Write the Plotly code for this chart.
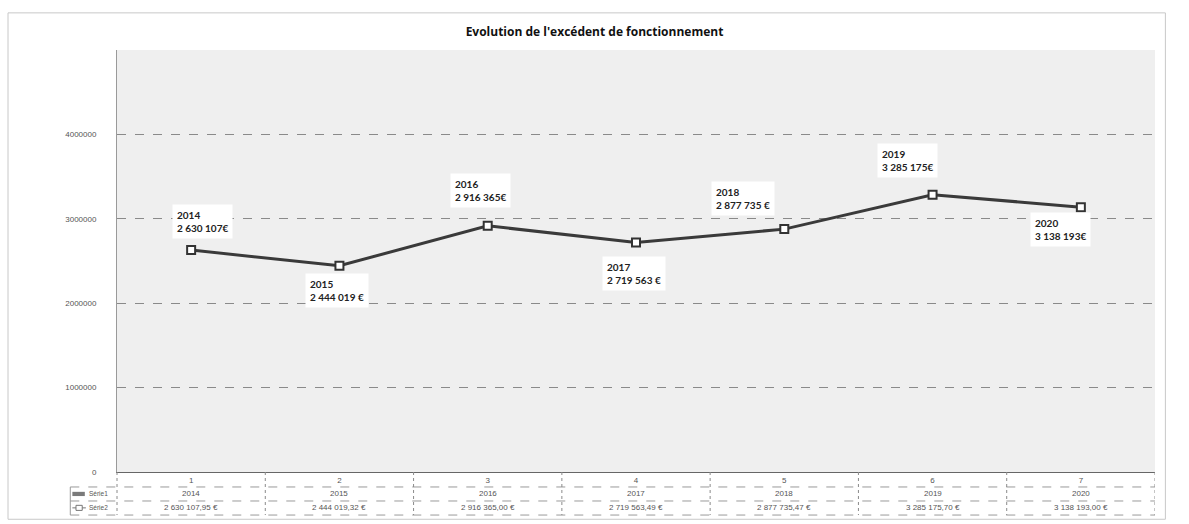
import plotly.graph_objects as go

# ---- data ----
categories = [1, 2, 3, 4, 5, 6, 7]
years = ["2014", "2015", "2016", "2017", "2018", "2019", "2020"]
values = [2630107.95, 2444019.32, 2916365.00, 2719563.49, 2877735.47, 3285175.70, 3138193.00]
label_values = ["2 630 107€", "2 444 019 €", "2 916 365€", "2 719 563 €", "2 877 735 €", "3 285 175€", "3 138 193€"]
table_values = ["2 630 107,95 €", "2 444 019,32 €", "2 916 365,00 €", "2 719 563,49 €",
                "2 877 735,47 €", "3 285 175,70 €", "3 138 193,00 €"]
y_ticks = [0, 1000000, 2000000, 3000000, 4000000]
title = "Evolution de l'excédent de fonctionnement"

# label placement (pixel offsets from marker)
label_dx = [11, -2, -7, -2, -41, -25, -20]
label_dy = [-29, 25, -35, 31, -31, -34, 22]

fig = go.Figure()
fig.add_trace(go.Scatter(
    x=categories, y=values, mode="lines+markers",
    line=dict(color="#3a3a3a", width=3),
    marker=dict(symbol="square", size=8, color="white", line=dict(color="#333333", width=2)),
    showlegend=False, hoverinfo="skip"))

ann = []
for c, yr, lv, dx, dy, v in zip(categories, years, label_values, label_dx, label_dy, values):
    ann.append(dict(x=c, y=v, xref="x", yref="y", text=f"{yr}<br>{lv}", showarrow=False,
                    xshift=dx, yshift=-dy, align="left", bgcolor="white", borderpad=4,
                    font=dict(family="Lato", size=10, color="#222222", weight="bold")))

tfont = dict(family="Liberation Sans", size=8, color="#555555")
# data table rows
for c, yr, tv in zip(categories, years, table_values):
    ann.append(dict(x=c, y=-0.052, xref="x", yref="paper", text=yr, showarrow=False,
                    yanchor="middle", font=tfont))
    ann.append(dict(x=c, y=-0.085, xref="x", yref="paper", text=tv, showarrow=False,
                    yanchor="middle", font=tfont))
ann.append(dict(x=-0.029, y=-0.052, xref="paper", yref="paper", text="Série1", showarrow=False,
                xanchor="left", yanchor="middle", font=dict(family="Liberation Sans", size=6.5, color="#555555")))
ann.append(dict(x=-0.029, y=-0.085, xref="paper", yref="paper", text="Série2", showarrow=False,
                xanchor="left", yanchor="middle", font=dict(family="Liberation Sans", size=6.5, color="#555555")))

shapes = []
# table horizontal lines
for yp in [-0.0355, -0.0687, -0.102]:
    shapes.append(dict(type="line", xref="paper", yref="paper", x0=-0.045, x1=1.0, y0=yp, y1=yp,
                       line=dict(color="#9a9a9a", width=1, dash="dash")))
# table vertical lines
for xb in [c + 0.5 for c in categories]:
    shapes.append(dict(type="line", xref="x", yref="paper", x0=xb, x1=xb, y0=0, y1=-0.102,
                       line=dict(color="#8a8a8a", width=1, dash="dot")))
shapes.append(dict(type="line", xref="paper", yref="paper", x0=-0.045, x1=-0.045, y0=-0.0355, y1=-0.102,
                   line=dict(color="#9a9a9a", width=1)))
shapes.append(dict(type="line", xref="paper", yref="paper", x0=0, x1=0, y0=0, y1=-0.102,
                   line=dict(color="#8a8a8a", width=1, dash="dot")))
# legend keys
shapes.append(dict(type="rect", xref="paper", yref="paper", x0=-0.043, x1=-0.031, y0=-0.047, y1=-0.057,
                   line=dict(width=0), fillcolor="#7a7a7a"))
shapes.append(dict(type="line", xref="paper", yref="paper", x0=-0.043, x1=-0.030, y0=-0.085, y1=-0.085,
                   line=dict(color="#777777", width=1)))
shapes.append(dict(type="rect", xref="paper", yref="paper", x0=-0.0395, x1=-0.0335, y0=-0.079, y1=-0.091,
                   line=dict(color="#777777", width=1), fillcolor="white"))
# outer chart border
shapes.append(dict(type="rect", xref="paper", yref="paper", x0=-0.105, x1=1.01, y0=-0.112, y1=1.088,
                   line=dict(color="#c8c8c8", width=1), fillcolor="rgba(0,0,0,0)", layer="below"))

fig.update_layout(
    width=1189, height=524,
    margin=dict(l=117, r=34, t=50, b=52),
    paper_bgcolor="white", plot_bgcolor="#efefef",
    title=dict(text=title, x=0.5, xanchor="center", y=0.94, yanchor="middle",
               font=dict(family="Open Sans", size=12, color="#111111", weight="bold")),
    annotations=ann, shapes=shapes,
    xaxis=dict(range=[0.5, 7.5], tickvals=categories, ticktext=[str(c) for c in categories],
               showgrid=False, zeroline=False, showline=True, linecolor="#666666", linewidth=1,
               ticks="", tickfont=dict(family="Liberation Sans", size=8, color="#555555")),
    yaxis=dict(range=[0, 5000000], tickvals=y_ticks, ticktext=[str(v) for v in y_ticks],
               showgrid=True, gridcolor="#8a8a8a", gridwidth=1, griddash="dash",
               zeroline=False, showline=True, linecolor="#9a9a9a", linewidth=1,
               ticks="", ticklabelstandoff=18,
               tickfont=dict(family="Liberation Sans", size=8, color="#555555")),
)

fig.write_html("out.html")
